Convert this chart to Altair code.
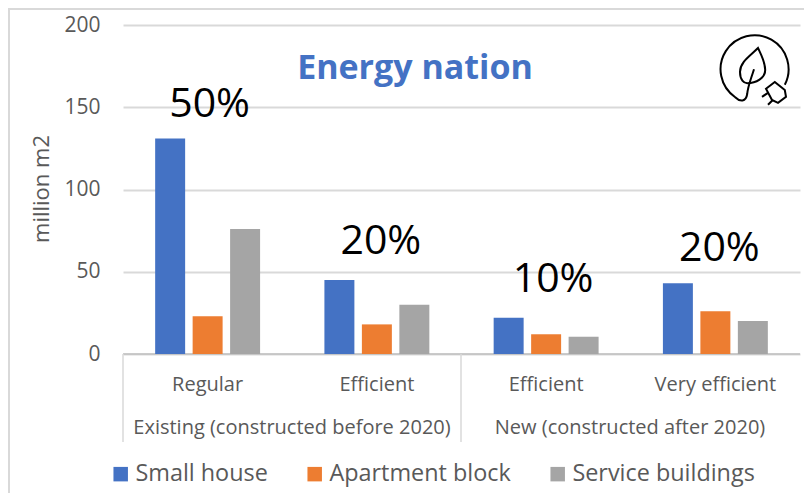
import altair as alt
import pandas as pd

categories = ["Regular", "Efficient (existing)", "Efficient (new)", "Very efficient"]
tier_labels = ["Regular", "Efficient", "Efficient", "Very efficient"]
series = ["Small house", "Apartment block", "Service buildings"]
small_house = [131, 45, 22, 43]
apartment = [23, 18, 12, 26]
service = [76, 30, 10.5, 20]
shares = ["50%", "20%", "10%", "20%"]
share_y = [151.5, 68, 45, 64]
share_dx = [2, 4, 7, 4]
colors = ["#4472C4", "#ED7D31", "#A5A5A5"]
groups = ["Existing (constructed before 2020)", "New (constructed after 2020)"]
FONT = "Open Sans"
GREY = "#595959"

rows = []
for name, vals in zip(series, [small_house, apartment, service]):
    for c, v in zip(categories, vals):
        rows.append({"category": c, "series": name, "value": v})
df = pd.DataFrame(rows)

x_scale = alt.Scale(domain=categories, paddingInner=0.38, paddingOuter=0.19)
y_scale = alt.Scale(domain=[0, 200], nice=False)

bars = alt.Chart(df).mark_bar().encode(
    x=alt.X("category:N", scale=x_scale, axis=None, title=None),
    xOffset=alt.XOffset("series:N", sort=series, scale=alt.Scale(domain=series, paddingInner=0.2)),
    y=alt.Y("value:Q", scale=y_scale, axis=alt.Axis(
        values=[0, 50, 100, 150, 200], title=None,
        labelFont=FONT, labelFontSize=21, labelColor=GREY, labelPadding=23,
        domain=False, ticks=False, grid=True, gridColor="#D9D9D9", gridWidth=2)),
    color=alt.Color("series:N", sort=series, scale=alt.Scale(domain=series, range=colors), legend=alt.Legend(
        orient="none", legendX=-14, legendY=437, direction="horizontal", columns=3, title=None,
        symbolType="square", symbolSize=210, symbolStrokeWidth=0, labelFont=FONT, labelFontSize=23.4,
        labelColor=GREY, columnPadding=35, labelOffset=3, labelLimit=300)),
)

share_df = pd.DataFrame({"category": categories, "text": shares, "y": share_y, "dx": share_dx})
share_layers = [
    alt.Chart(share_df.iloc[[i]]).mark_text(font=FONT, fontSize=41, color="black", baseline="middle", dx=share_dx[i]).encode(
        x=alt.X("category:N", scale=x_scale, axis=None),
        y=alt.Y("y:Q", scale=y_scale, title=None),
        text="text:N")
    for i in range(4)
]

tier_df = pd.DataFrame({"category": categories, "text": tier_labels})
tiers = alt.Chart(tier_df).mark_text(font=FONT, fontSize=20, color=GREY, baseline="middle").encode(
    x=alt.X("category:N", scale=x_scale, axis=None),
    y=alt.value(360),
    text="text:N")

one = pd.DataFrame({"a": [0]})

def label(txt, px, py, **kw):
    return alt.Chart(pd.DataFrame({"t": [txt]})).mark_text(baseline="middle", **kw).encode(
        x=alt.value(px), y=alt.value(py), text="t:N")

def hline(x1, x2, y, color="#D9D9D9", w=1.5):
    return alt.Chart(one).mark_rule(color=color, strokeWidth=w).encode(
        x=alt.value(x1), x2=alt.value(x2), y=alt.value(y))

def vline(x, y1, y2, color="#D9D9D9", w=1.5):
    return alt.Chart(one).mark_rule(color=color, strokeWidth=w).encode(
        x=alt.value(x), y=alt.value(y1), y2=alt.value(y2))

title = label("Energy nation", 292, 44, font=FONT, fontSize=34, fontWeight="bold", color="#4472C4")
g1 = label(groups[0], 169, 403, font=FONT, fontSize=20, color=GREY)
g2 = label(groups[1], 507, 403, font=FONT, fontSize=20, color=GREY)
y_title = label("million m2", -81, 164, font=FONT, fontSize=22, color=GREY, angle=270)

icon_paths = [
    "M.82 .37 A.85 .85 0 1 0 -.42 .68 C-.3 .8 -.15 .8 -.12 .6 C-.1 .4 -.05 .3 .05 -.02",
    "M.15 -.55 C-.05 -.35 -.3 -.2 -.3 .05 C-.3 .25 -.2 .33 -.12 .33 C.1 .33 .33 .2 .33 0 C.33 -.2 .22 -.4 .15 -.55 Z",
    "M.35 .47 L.57 .3 L.82 .5 L.85 .67 L.65 .82 L.5 .75 Z",
    "M.25 .67 L.4 .57 M.4 .87 L.52 .75",
]
icons = [
    alt.Chart(one).mark_point(shape=p, size=6400, filled=False, stroke="black", strokeWidth=2, opacity=1).encode(
        x=alt.value(629), y=alt.value(45))
    for p in icon_paths
]

frame = [
    hline(-115, 689, -16, "#D9D9D9", 2),
    vline(-114, -17, 470, "#D9D9D9", 2),
    hline(0, 677, 329, "#BFBFBF", 1.5),
    vline(0, 329, 417),
    vline(338, 329, 417),
]

chart = alt.layer(*frame, bars, *share_layers, tiers, g1, g2, y_title, title, *icons).resolve_scale(
    x="shared", y="shared"
).properties(
    width=677, height=329,
    padding={"left": 115, "top": 17, "right": 4, "bottom": 139},
    autosize=alt.AutoSizeParams(type="none"),
    background="white",
).configure_view(stroke=None)

chart.save("out.html", embed_options={"renderer": "svg", "actions": False})
